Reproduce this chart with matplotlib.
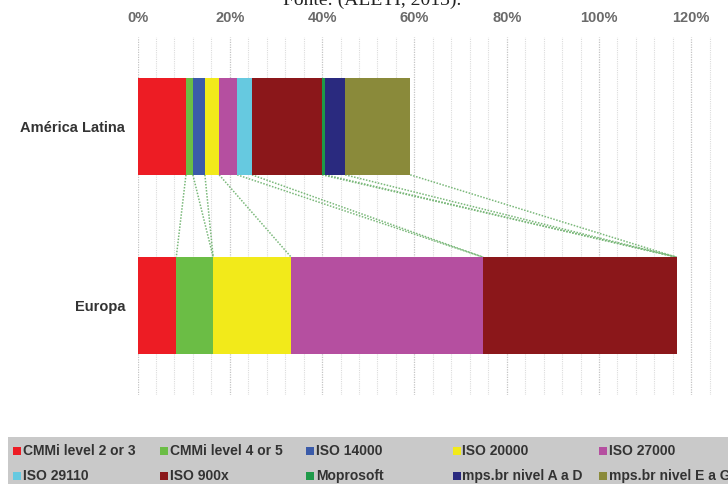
import matplotlib.pyplot as plt
from matplotlib.patches import Rectangle
import numpy as np

# dados
regioes = ["América Latina", "Europa"]
series = ["CMMi level 2 or 3", "CMMi level 4 or 5", "ISO 14000", "ISO 20000",
          "ISO 27000", "ISO 29110", "ISO 900x", "Moprosoft",
          "mps.br nivel A a D", "mps.br nivel E a G"]
america_latina = [10.5, 1.5, 2.6, 3.1, 3.9, 3.2, 15.2, 0.7, 4.3, 14.1]
europa = [8.4, 8.0, 0.0, 16.9, 41.6, 0.0, 41.9, 0.0, 0.0, 0.0]
cores = ["#ed1c24", "#6bbd45", "#3b5ba9", "#f2ea1a", "#b54fa0",
         "#66c9e0", "#8b171a", "#1f9a4a", "#2a2a7f", "#8a8a3a"]
ticks_x = [0, 20, 40, 60, 80, 100, 120]

W, H = 728, 484
fig = plt.figure(figsize=(W / 100, H / 100), dpi=100)
ax = fig.add_axes([137.5 / W, 1 - 395 / H, 1 - 137.5 / W, (395 - 37) / H])

altura = 0.54
valores = np.array([america_latina, europa])
esquerda = np.zeros(2)
for i, nome in enumerate(series):
    ax.barh([0, 1], valores[:, i], left=esquerda, height=altura,
            color=cores[i], label=nome, zorder=3)
    esquerda += valores[:, i]

# linhas de série (estilo Excel)
cum_al = np.cumsum(america_latina)
cum_eu = np.cumsum(europa)
for a, e in zip(cum_al, cum_eu):
    ax.plot([a, e], [altura / 2, 1 - altura / 2], linestyle=(0, (1, 1)),
            color="#7ab87a", lw=1.1, zorder=2)

ax.set_xlim(0, 590.5 / 4.615)
ax.set_ylim(1.5, -0.5)
ax.set_yticks([0, 1])
ax.set_yticklabels(regioes, fontsize=10.5, fontweight="bold", color="#333333",
                   family="Liberation Sans")
ax.set_xticks(ticks_x)
ax.set_xticklabels([f"{t}%" for t in ticks_x], fontsize=10.5, fontweight="bold",
                   color="#6a6a6a", family="Liberation Sans")
ax.set_xticks(np.arange(0, 128, 4), minor=True)
ax.xaxis.tick_top()
ax.tick_params(axis="x", which="both", length=0, pad=9)
ax.tick_params(axis="y", length=0, pad=9)
ax.grid(axis="x", which="minor", color="#dcdcdc", linestyle=(0, (1, 1)), lw=0.8, zorder=0)
ax.grid(axis="x", which="major", color="#c4c4c4", linestyle=(0, (1, 1)), lw=0.9, zorder=0)
ax.set_axisbelow(True)
for s in ax.spines.values():
    s.set_visible(False)

# legenda manual em caixa cinza
fig.patches.append(Rectangle((8 / W, 0), 1, 1 - 437 / H, transform=fig.transFigure,
                             facecolor="#c9c9c9", edgecolor="none", zorder=0))
for i, nome in enumerate(series):
    col, lin = i % 5, i // 5
    x = (13 + col * 146.5) / W
    y = 1 - (451 + lin * 25) / H
    fig.patches.append(Rectangle((x, y - 4 / H), 8 / W, 8 / H, transform=fig.transFigure,
                                 facecolor=cores[i], edgecolor="none", zorder=1))
    fig.text(x + 10 / W, y, nome, fontsize=10, fontweight="bold", color="#333333",
             va="center", ha="left", family="Liberation Sans")

# legenda da figura cortada no topo
fig.text(372 / W, 1 - 5 / H, "Fonte: (ALETI, 2013).", fontsize=14, ha="center",
         va="baseline", family="Liberation Serif", color="#222222")

fig.savefig("out.png", dpi=100)
